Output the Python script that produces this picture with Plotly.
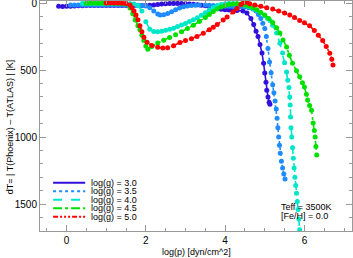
import plotly.graph_objects as go

# ---- data ----
logg_labels = ["log(g) = 3.0", "log(g) = 3.5", "log(g) = 4.0", "log(g) = 4.5", "log(g) = 5.0"]
colors = ["#3311dd", "#1e8cff", "#00e6c8", "#00e000", "#ff0000"]
dashes = ["solid", "dot", "dash", "dashdot", "5px,2px,2px,2px,2px,2px,2px,2px"]

x_g30 = [-0.2, -0.1, 0.0, 0.1, 0.2, 0.3, 0.4, 0.5, 0.6, 0.7, 0.8, 0.9, 1.0, 1.1, 1.2, 1.3, 1.4, 1.5,
         1.6, 1.7, 1.8, 1.9, 2.0, 2.1, 2.2, 2.3, 2.4, 2.5, 2.6, 2.7, 2.8, 2.9, 3.0, 3.1, 3.2, 3.3,
         3.4, 3.5, 3.6, 3.7, 3.8, 3.9, 4.0, 4.1, 4.2, 4.3, 4.45, 4.55, 4.65, 4.72, 4.78, 4.83,
         4.88, 4.93, 4.97, 5.0, 5.03, 5.05, 5.08, 5.11, 5.13]
y_g30 = [25, 26, 25, 24, 22, 21, 20, 19, 18, 18, 18, 18, 18, 18, 19, 19, 19, 19,
         19, 19, 19, 19, 18, 16, 14, 11, 8, 6, 4, 3, 3, 4, 6, 8, 10, 13,
         16, 20, 25, 32, 40, 46, 50, 52, 52, 55, 60, 75, 115, 160, 210, 250,
         310, 373, 450, 522, 590, 650, 700, 740, 755]

x_g35 = [0.1, 0.2, 0.3, 0.4, 0.5, 0.6, 0.7, 0.8, 0.9, 1.0, 1.1, 1.2, 1.3, 1.4, 1.5, 1.6, 1.7, 1.8,
         1.9, 2.0, 2.1, 2.2, 2.3, 2.36, 2.45, 2.55, 2.65, 2.75, 2.85, 2.95, 3.05, 3.15, 3.25, 3.35,
         3.5, 3.6, 3.7, 3.8, 3.9, 4.0, 4.1, 4.2, 4.3, 4.4, 4.5, 4.6, 4.7, 4.78, 4.84, 4.9, 4.95,
         5.0, 5.04, 5.08, 5.12, 5.16, 5.2, 5.23, 5.26, 5.29, 5.31, 5.33, 5.35, 5.37, 5.39, 5.42,
         5.45, 5.48, 5.51]
y_g35 = [15, 15, 15, 15, 15, 15, 15, 15, 15, 15, 15, 15, 15, 15, 15, 16, 16, 17,
         18, 22, 36, 60, 82, 90, 88, 78, 65, 50, 38, 28, 22, 18, 16, 15,
         15, 16, 18, 20, 22, 24, 25, 26, 27, 28, 30, 35, 45, 60, 85, 115, 150,
         190, 250, 340, 440, 520, 610, 670, 730, 790, 860, 930, 1000, 1060, 1120, 1180,
         1230, 1275, 1313]

x_g40 = [0.4, 0.5, 0.6, 0.7, 0.8, 0.9, 1.0, 1.1, 1.2, 1.3, 1.4, 1.5, 1.6, 1.7, 1.8, 1.9, 2.0,
         2.1, 2.2, 2.3, 2.4, 2.5, 2.6, 2.7, 2.8, 2.9, 3.0, 3.1, 3.2, 3.3, 3.4, 3.5, 3.6, 3.7,
         3.8, 3.9, 4.0, 4.1, 4.2, 4.3, 4.4, 4.5, 4.6, 4.7, 4.8, 4.9, 5.0, 5.07, 5.13, 5.2, 5.3,
         5.38, 5.45, 5.5, 5.55, 5.58, 5.61, 5.63, 5.64, 5.65, 5.66, 5.68, 5.7, 5.72, 5.74, 5.76,
         5.78, 5.8, 5.82, 5.84, 5.86, 5.88, 5.9]
y_g40 = [3, 3, 3, 3, 3, 3, 3, 3, 3, 3, 3, 4, 5, 8, 18, 60, 140,
         195, 212, 215, 210, 203, 196, 188, 176, 164, 152, 138, 124, 110, 92, 72, 52, 34,
         20, 11, 6, 3, 4, 6, 10, 18, 28, 40, 55, 75, 95, 115, 130, 165, 224,
         300, 373, 445, 515, 575, 630, 700, 760, 850, 930, 1000, 1080, 1157, 1230, 1300,
         1360, 1418, 1480, 1540, 1610, 1690, 1760]

x_g45 = [0.5, 0.6, 0.7, 0.8, 0.9, 1.0, 1.1, 1.2, 1.3, 1.4, 1.5, 1.6, 1.67, 1.73, 1.8, 1.85, 1.9,
         1.95, 2.0, 2.05, 2.15, 2.3, 2.45, 2.6, 2.75, 2.9, 3.05, 3.2, 3.35, 3.5, 3.6, 3.7, 3.8,
         3.9, 4.0, 4.1, 4.2, 4.3, 4.4, 4.5, 4.6, 4.7, 4.8, 4.9, 5.0, 5.1, 5.2, 5.3, 5.38, 5.46,
         5.55, 5.62, 5.7, 5.8, 5.88, 5.95, 6.0, 6.05, 6.08, 6.13, 6.18, 6.22, 6.25, 6.27, 6.29,
         6.31]
y_g45 = [2, 2, 2, 2, 2, 2, 2, 2, 3, 4, 8, 37, 80, 127, 170, 200, 240,
         280, 320, 345, 325, 298, 278, 258, 237, 214, 190, 165, 138, 108, 85, 63, 44,
         29, 19, 12, 8, 6, 8, 14, 22, 35, 50, 70, 90, 115, 145, 185, 224, 275,
         328, 390, 450, 505, 550, 595, 627, 680, 724, 765, 800, 895, 950, 1000, 1070,
         1134]

x_g50 = [1.0, 1.1, 1.2, 1.3, 1.4, 1.5, 1.6, 1.65, 1.7, 1.75, 1.8, 1.85, 1.9, 1.95, 2.03, 2.15,
         2.3, 2.43, 2.55, 2.7, 2.86, 3.0, 3.15, 3.29, 3.45, 3.6, 3.7, 3.8, 3.95, 4.05, 4.2,
         4.3, 4.4, 4.47, 4.55, 4.62, 4.75, 4.9, 5.05, 5.2, 5.35, 5.5, 5.63, 5.75, 5.88, 6.0,
         6.13, 6.25, 6.35, 6.46, 6.55, 6.64, 6.69, 6.72]
y_g50 = [0, 0, 0, 0, 1, 3, 15, 35, 60, 90, 125, 170, 215, 255, 292, 316,
         330, 336, 333, 318, 295, 280, 266, 250, 226, 200, 180, 160, 127, 105, 67,
         40, 12, -5, -6, 5, 15, 25, 35, 45, 60, 75, 90, 108, 130, 148,
         170, 205, 240, 280, 325, 375, 420, 463]

xs = [x_g30, x_g35, x_g40, x_g45, x_g50]
ys = [y_g30, y_g35, y_g40, y_g45, y_g50]

x_ticks = [0, 2, 4, 6]
y_ticks = [0, 500, 1000, 1500]

FONT = "Liberation Sans, Arial, sans-serif"
AX = "#999999"

fig = go.Figure()
for x, y, c, d, name in zip(xs, ys, colors, dashes, logg_labels):
    fig.add_trace(go.Scatter(
        x=x, y=y, mode="lines+markers", name=name,
        line=dict(color=c, width=1.6, dash=d),
        marker=dict(color=c, size=5, symbol="circle"),
        showlegend=False, cliponaxis=True, hoverinfo="skip",
    ))

# manual legend (compact rows)
leg_y = [0.21, 0.173, 0.136, 0.099, 0.062]
for yy, c, d, name in zip(leg_y, colors, dashes, logg_labels):
    fig.add_shape(type="line", xref="paper", yref="paper", x0=0.042, x1=0.145, y0=yy, y1=yy,
                  line=dict(color=c, width=2, dash=d))
    fig.add_annotation(xref="paper", yref="paper", x=0.158, y=yy, text=name, showarrow=False,
                       xanchor="left", yanchor="middle", font=dict(family=FONT, size=9, color="black"))

fig.add_annotation(xref="paper", yref="paper", x=0.765, y=0.104, text="Teff = 3500K", showarrow=False,
                   xanchor="left", yanchor="middle", font=dict(family=FONT, size=9, color="black"))
fig.add_annotation(xref="paper", yref="paper", x=0.765, y=0.066, text="[Fe/H] = 0.0", showarrow=False,
                   xanchor="left", yanchor="middle", font=dict(family=FONT, size=9, color="black"))

fig.add_annotation(xref="paper", yref="paper", x=0.5, y=-0.09, text="log(p) [dyn/cm^2]", showarrow=False,
                   xanchor="center", yanchor="middle", font=dict(family=FONT, size=9, color="black"))
fig.add_annotation(xref="paper", yref="paper", x=-0.097, y=0.45,
                   text="dT= | T(Phoenix) – T(ATLAS) | [K]", showarrow=False, textangle=-90,
                   xanchor="center", yanchor="middle", font=dict(family=FONT, size=9, color="black"))

fig.update_layout(
    width=353, height=258,
    margin=dict(l=40, r=1, t=1, b=27, autoexpand=False),
    paper_bgcolor="white", plot_bgcolor="white",
    font=dict(family=FONT, size=10, color="black"),
    hovermode=False,
    xaxis=dict(range=[-0.67, 7.2], tickvals=x_ticks, ticktext=[str(v) for v in x_ticks],
               automargin=False, ticklabeloverflow="allow",
               ticks="inside", ticklen=6, tickcolor=AX, tickwidth=1,
               minor=dict(dtick=0.5, ticks="inside", ticklen=3, tickcolor=AX),
               showline=True, linecolor=AX, linewidth=1, mirror="allticks",
               showgrid=False, zeroline=False, tickfont=dict(size=10)),
    yaxis=dict(range=[1700, -15], tickvals=y_ticks, ticktext=[str(v) for v in y_ticks],
               automargin=False, ticklabeloverflow="allow",
               ticks="inside", ticklen=6, tickcolor=AX, tickwidth=1,
               minor=dict(dtick=100, ticks="inside", ticklen=3, tickcolor=AX),
               showline=True, linecolor=AX, linewidth=1, mirror="allticks",
               showgrid=False, zeroline=False, tickfont=dict(size=10)),
)

fig.write_html("out.html", config={"displayModeBar": False, "staticPlot": True},
               post_script="document.body.style.margin='0';document.body.style.padding='0';")
